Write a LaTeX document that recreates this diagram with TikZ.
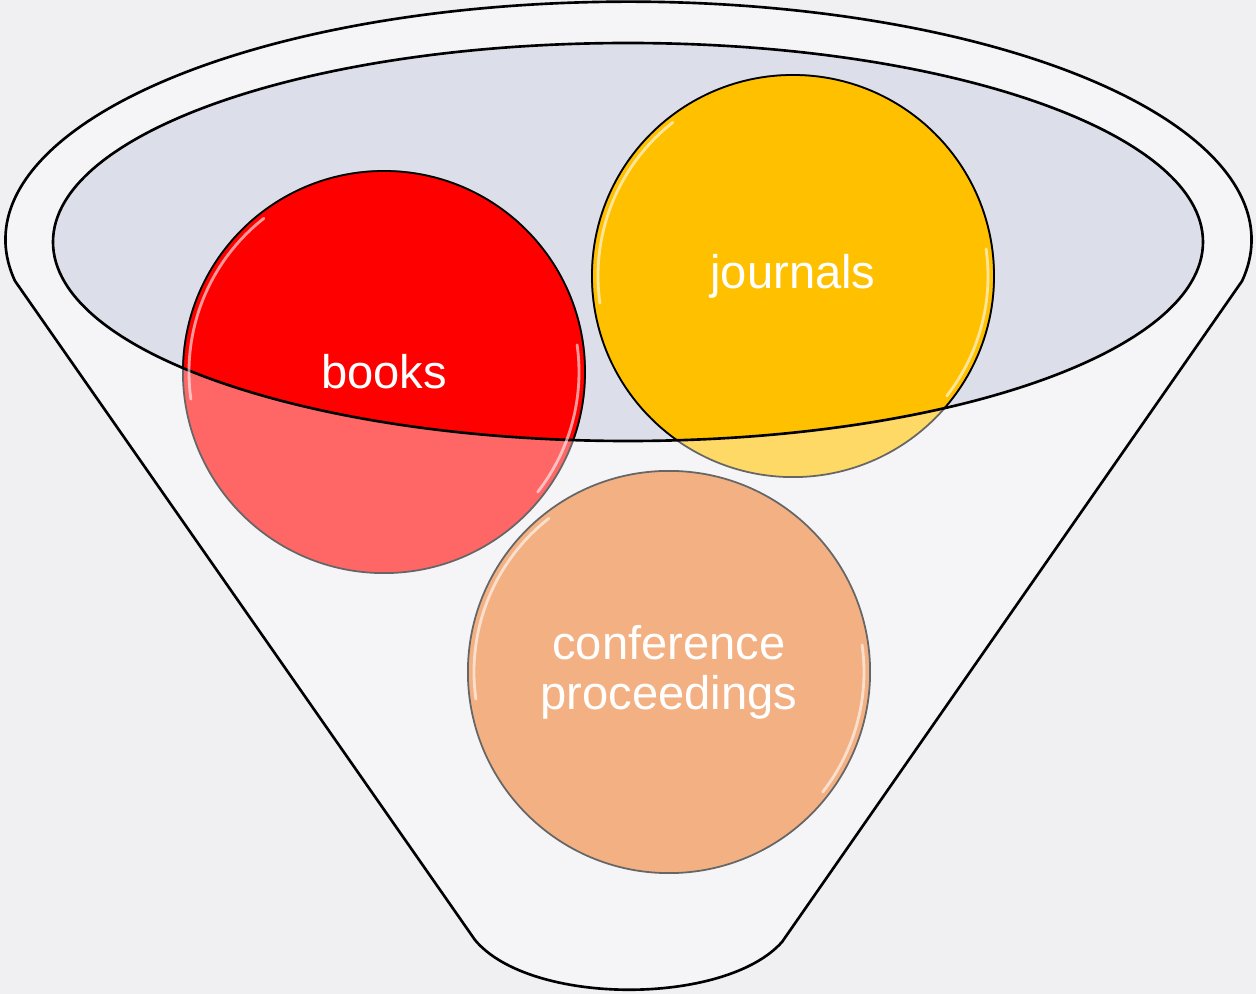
\documentclass[tikz,border=0pt]{standalone}
\usepackage{fontspec}
\setmainfont{Liberation Sans}

\definecolor{bgGray}{HTML}{F0EFF2}
\definecolor{funnelFill}{HTML}{F5F4F7}
\definecolor{rimFill}{HTML}{DCDFEA}
\definecolor{booksDark}{HTML}{FF0000}
\definecolor{booksLight}{HTML}{FF6666}
\definecolor{journalsDark}{HTML}{FFC000}
\definecolor{journalsLight}{HTML}{FFD966}
\definecolor{confFill}{HTML}{F3B183}

\def \bubbleRadius{201}
\def \glossRadius{195}
\def \booksX{384}
\def \booksY{372}
\def \journalsX{793}
\def \journalsY{276}
\def \confX{669}
\def \confY{672}
\def \rimX{628}
\def \rimY{242}
\def \rimRX{575}
\def \rimRY{199}

\tikzset{
  funnel/.style = {fill=funnelFill, draw=black, line width=0.75pt, line join=round},
  bubble/.style = {circle, minimum size=4.02cm, inner sep=0pt, draw=black!60, line width=0.5pt},
  bubbletext/.style = {text=white, align=center, font=\fontsize{13.4}{14.3}\selectfont},
  gloss/.style = {white, opacity=0.6, line width=0.8pt, line cap=round}
}

\begin{document}
\begin{tikzpicture}[x=0.01cm, y=-0.01cm]
% ---- Background
\fill[bgGray] (0,0) rectangle (1256,994);
\useasboundingbox (0,0) rectangle (1256,994);

% ---- Funnel body
\draw[funnel] (15,281) arc [start angle=170, end angle=370, x radius=623, y radius=238]
  -- (782,942) .. controls (725,1006) and (530,1006) .. (475,940) -- cycle;

% ---- Rim (inner ellipse)
\fill[rimFill] (\rimX,\rimY) ellipse [x radius=\rimRX, y radius=\rimRY];

% ---- Bubbles, light part
\node[bubble, fill=booksLight] (books) at (\booksX,\booksY) {};
\node[bubble, fill=journalsLight] (journals) at (\journalsX,\journalsY) {};
\node[bubble, fill=confFill] (conf) at (\confX,\confY) {};

% ---- Bubbles, part inside the rim
\begin{scope}
  \clip (\rimX,\rimY) ellipse [x radius=\rimRX, y radius=\rimRY];
  \fill[booksDark] (books.center) circle [radius=\bubbleRadius];
  \fill[journalsDark] (journals.center) circle [radius=\bubbleRadius];
  \draw[line width=0.5pt] (books.center) circle [radius=\bubbleRadius];
  \draw[line width=0.5pt] (journals.center) circle [radius=\bubbleRadius];
\end{scope}

% ---- Rim outline
\draw[line width=0.75pt] (\rimX,\rimY) ellipse [x radius=\rimRX, y radius=\rimRY];

% ---- Gloss
\foreach \bub in {books, journals, conf} {
  \draw[gloss] (\bub.center) ++(172:\glossRadius) arc [start angle=172, end angle=232, radius=\glossRadius];
  \draw[gloss] (\bub.center) ++(-8:\glossRadius) arc [start angle=-8, end angle=38, radius=\glossRadius];
}

% ---- Labels
\node[bubbletext] (booksText) at (books) {books};
\node[bubbletext] (journalsText) at (journals) {journals};
\node[bubbletext] (confText) at (conf) {conference\\proceedings};
\end{tikzpicture}
\end{document}
